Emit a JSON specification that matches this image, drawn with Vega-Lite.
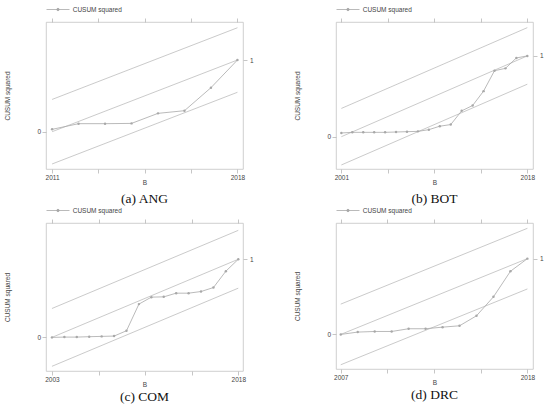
{
  "$schema": "https://vega.github.io/schema/vega-lite/v6.json",
  "padding": {"left": 4, "top": 3, "right": 0, "bottom": 0},
  "background": "white",
  "config": {
    "font": "Liberation Sans",
    "view": {"stroke": "#c4c4c4", "strokeWidth": 0.8},
    "axis": {"domain": false, "grid": false, "tickColor": "#b8b8b8", "tickSize": 4, "tickWidth": 0.8, "labelFontSize": 6.5, "labelColor": "#444", "titleFontSize": 6.5, "titleFontWeight": "normal", "titleColor": "#444", "labelPadding": 1.5},
    "axisX": {"titlePadding": -1, "labelPadding": 1},
    "axisY": {"titlePadding": 26},
    "legend": {"orient": "top", "title": null, "padding": 0, "offset": 4, "labelFontSize": 6.5, "labelColor": "#444", "symbolSize": 100, "symbolStrokeWidth": 0.8, "labelOffset": 15.7, "symbolType": "M-1,0H3.6M1.05,0A0.25,0.25,0,1,0,1.55,0A0.25,0.25,0,1,0,1.05,0"},
    "title": {"font": "Liberation Serif", "fontSize": 13.5, "fontWeight": "normal", "color": "#111", "frame": "group", "anchor": "middle"},
    "line": {"strokeWidth": 0.8}
  },
  "datasets": {
    "cusum": [
      {"p": "ANG", "year": 2011, "v": 0.033}, {"p": "ANG", "year": 2012, "v": 0.112}, {"p": "ANG", "year": 2013, "v": 0.112}, {"p": "ANG", "year": 2014, "v": 0.116},
      {"p": "ANG", "year": 2015, "v": 0.256}, {"p": "ANG", "year": 2016, "v": 0.293}, {"p": "ANG", "year": 2017, "v": 0.614}, {"p": "ANG", "year": 2018, "v": 1.0},
      {"p": "BOT", "year": 2001, "v": 0.046}, {"p": "BOT", "year": 2002, "v": 0.054}, {"p": "BOT", "year": 2003, "v": 0.054}, {"p": "BOT", "year": 2004, "v": 0.054},
      {"p": "BOT", "year": 2005, "v": 0.054}, {"p": "BOT", "year": 2006, "v": 0.058}, {"p": "BOT", "year": 2007, "v": 0.062}, {"p": "BOT", "year": 2008, "v": 0.066},
      {"p": "BOT", "year": 2009, "v": 0.087}, {"p": "BOT", "year": 2010, "v": 0.13}, {"p": "BOT", "year": 2011, "v": 0.15}, {"p": "BOT", "year": 2012, "v": 0.32},
      {"p": "BOT", "year": 2013, "v": 0.386}, {"p": "BOT", "year": 2014, "v": 0.564}, {"p": "BOT", "year": 2015, "v": 0.817}, {"p": "BOT", "year": 2016, "v": 0.846},
      {"p": "BOT", "year": 2017, "v": 0.975}, {"p": "BOT", "year": 2018, "v": 1.0},
      {"p": "COM", "year": 2003, "v": 0.0}, {"p": "COM", "year": 2004, "v": 0.004}, {"p": "COM", "year": 2005, "v": 0.004}, {"p": "COM", "year": 2006, "v": 0.009},
      {"p": "COM", "year": 2007, "v": 0.013}, {"p": "COM", "year": 2008, "v": 0.017}, {"p": "COM", "year": 2009, "v": 0.085}, {"p": "COM", "year": 2010, "v": 0.426},
      {"p": "COM", "year": 2011, "v": 0.515}, {"p": "COM", "year": 2012, "v": 0.519}, {"p": "COM", "year": 2013, "v": 0.566}, {"p": "COM", "year": 2014, "v": 0.566},
      {"p": "COM", "year": 2015, "v": 0.587}, {"p": "COM", "year": 2016, "v": 0.638}, {"p": "COM", "year": 2017, "v": 0.847}, {"p": "COM", "year": 2018, "v": 1.0},
      {"p": "DRC", "year": 2007, "v": 0.0}, {"p": "DRC", "year": 2008, "v": 0.031}, {"p": "DRC", "year": 2009, "v": 0.039}, {"p": "DRC", "year": 2010, "v": 0.039},
      {"p": "DRC", "year": 2011, "v": 0.075}, {"p": "DRC", "year": 2012, "v": 0.075}, {"p": "DRC", "year": 2013, "v": 0.096}, {"p": "DRC", "year": 2014, "v": 0.114},
      {"p": "DRC", "year": 2015, "v": 0.246}, {"p": "DRC", "year": 2016, "v": 0.496}, {"p": "DRC", "year": 2017, "v": 0.833}, {"p": "DRC", "year": 2018, "v": 1.0}
    ],
    "bounds": [
      {"p": "ANG", "line": "upper", "year": 2011, "v": 0.45}, {"p": "ANG", "line": "upper", "year": 2018, "v": 1.45},
      {"p": "ANG", "line": "mid", "year": 2011, "v": 0.0}, {"p": "ANG", "line": "mid", "year": 2018, "v": 1.0},
      {"p": "ANG", "line": "lower", "year": 2011, "v": -0.45}, {"p": "ANG", "line": "lower", "year": 2018, "v": 0.55},
      {"p": "BOT", "line": "upper", "year": 2001, "v": 0.35}, {"p": "BOT", "line": "upper", "year": 2018, "v": 1.35},
      {"p": "BOT", "line": "mid", "year": 2001, "v": 0.0}, {"p": "BOT", "line": "mid", "year": 2018, "v": 1.0},
      {"p": "BOT", "line": "lower", "year": 2001, "v": -0.35}, {"p": "BOT", "line": "lower", "year": 2018, "v": 0.65},
      {"p": "COM", "line": "upper", "year": 2003, "v": 0.37}, {"p": "COM", "line": "upper", "year": 2018, "v": 1.37},
      {"p": "COM", "line": "mid", "year": 2003, "v": 0.0}, {"p": "COM", "line": "mid", "year": 2018, "v": 1.0},
      {"p": "COM", "line": "lower", "year": 2003, "v": -0.37}, {"p": "COM", "line": "lower", "year": 2018, "v": 0.63},
      {"p": "DRC", "line": "upper", "year": 2007, "v": 0.4}, {"p": "DRC", "line": "upper", "year": 2018, "v": 1.4},
      {"p": "DRC", "line": "mid", "year": 2007, "v": 0.0}, {"p": "DRC", "line": "mid", "year": 2018, "v": 1.0},
      {"p": "DRC", "line": "lower", "year": 2007, "v": -0.4}, {"p": "DRC", "line": "lower", "year": 2018, "v": 0.6}
    ]
  },
  "resolve": {"scale": {"color": "independent"}, "legend": {"color": "independent"}},
  "spacing": -2,
  "vconcat": [
    {
      "resolve": {"scale": {"color": "independent"}, "legend": {"color": "independent"}},
      "spacing": 40,
      "hconcat": [
        {
          "width": 197, "height": 147,
          "title": {"text": "(a) ANG", "orient": "bottom", "offset": 6},
          "resolve": {"axis": {"x": "independent", "y": "independent"}},
          "layer": [
            {
              "data": {"name": "bounds"}, "transform": [{"filter": "datum.p === 'ANG'"}],
              "mark": {"type": "line", "color": "#bdbdbd", "strokeWidth": 0.8},
              "encoding": {
                "x": {"field": "year", "type": "quantitative", "scale": {"domain": [2010.77, 2018.21], "nice": false, "zero": false},
                      "axis": {"orient": "bottom", "values": [2011, 2012.75, 2014.5, 2016.25, 2018], "format": "d", "labelExpr": "datum.value % 1 === 0 ? datum.label : ''", "title": "B"}},
                "y": {"field": "v", "type": "quantitative", "scale": {"domain": [-0.52, 1.53], "nice": false, "zero": false},
                      "axis": {"orient": "left", "values": [0], "title": "CUSUM squared"}},
                "detail": {"field": "line"}
              }
            },
            {
              "data": {"name": "cusum"}, "transform": [{"filter": "datum.p === 'ANG'"}],
              "mark": {"type": "line", "strokeWidth": 0.8, "point": {"filled": true, "size": 6}},
              "encoding": {
                "x": {"field": "year", "type": "quantitative", "scale": {"domain": [2010.77, 2018.21], "nice": false, "zero": false},
                      "axis": {"orient": "top", "values": [2011, 2012.75, 2014.5, 2016.25, 2018], "labels": false, "title": null}},
                "y": {"field": "v", "type": "quantitative", "scale": {"domain": [-0.52, 1.53], "nice": false, "zero": false},
                      "axis": {"orient": "right", "values": [1], "title": null, "labelPadding": 2.5}},
                "color": {"datum": "CUSUM squared", "scale": {"range": ["#a8a8a8"]}}
              }
            }
          ]
        },
        {
          "width": 197, "height": 147,
          "title": {"text": "(b) BOT", "orient": "bottom", "offset": 6},
          "resolve": {"axis": {"x": "independent", "y": "independent"}},
          "layer": [
            {
              "data": {"name": "bounds"}, "transform": [{"filter": "datum.p === 'BOT'"}],
              "mark": {"type": "line", "color": "#bdbdbd", "strokeWidth": 0.8},
              "encoding": {
                "x": {"field": "year", "type": "quantitative", "scale": {"domain": [2000.51, 2018.52], "nice": false, "zero": false},
                      "axis": {"orient": "bottom", "values": [2001, 2005.25, 2009.5, 2013.75, 2018], "format": "d", "labelExpr": "datum.value % 1 === 0 ? datum.label : ''", "title": "B"}},
                "y": {"field": "v", "type": "quantitative", "scale": {"domain": [-0.40, 1.42], "nice": false, "zero": false},
                      "axis": {"orient": "left", "values": [0], "title": "CUSUM squared"}},
                "detail": {"field": "line"}
              }
            },
            {
              "data": {"name": "cusum"}, "transform": [{"filter": "datum.p === 'BOT'"}],
              "mark": {"type": "line", "strokeWidth": 0.8, "point": {"filled": true, "size": 6}},
              "encoding": {
                "x": {"field": "year", "type": "quantitative", "scale": {"domain": [2000.51, 2018.52], "nice": false, "zero": false},
                      "axis": {"orient": "top", "values": [2001, 2005.25, 2009.5, 2013.75, 2018], "labels": false, "title": null}},
                "y": {"field": "v", "type": "quantitative", "scale": {"domain": [-0.40, 1.42], "nice": false, "zero": false},
                      "axis": {"orient": "right", "values": [1], "title": null, "labelPadding": 2.5}},
                "color": {"datum": "CUSUM squared", "scale": {"range": ["#a8a8a8"]}}
              }
            }
          ]
        }
      ]
    },
    {
      "resolve": {"scale": {"color": "independent"}, "legend": {"color": "independent"}},
      "spacing": 40,
      "hconcat": [
        {
          "width": 197, "height": 148,
          "title": {"text": "(c) COM", "orient": "bottom", "offset": 1.5},
          "resolve": {"axis": {"x": "independent", "y": "independent"}},
          "layer": [
            {
              "data": {"name": "bounds"}, "transform": [{"filter": "datum.p === 'COM'"}],
              "mark": {"type": "line", "color": "#bdbdbd", "strokeWidth": 0.8},
              "encoding": {
                "x": {"field": "year", "type": "quantitative", "scale": {"domain": [2002.52, 2018.38], "nice": false, "zero": false},
                      "axis": {"orient": "bottom", "values": [2003, 2006.75, 2010.5, 2014.25, 2018], "format": "d", "labelExpr": "datum.value % 1 === 0 ? datum.label : ''", "title": "B"}},
                "y": {"field": "v", "type": "quantitative", "scale": {"domain": [-0.43, 1.464], "nice": false, "zero": false},
                      "axis": {"orient": "left", "values": [0], "title": "CUSUM squared"}},
                "detail": {"field": "line"}
              }
            },
            {
              "data": {"name": "cusum"}, "transform": [{"filter": "datum.p === 'COM'"}],
              "mark": {"type": "line", "strokeWidth": 0.8, "point": {"filled": true, "size": 6}},
              "encoding": {
                "x": {"field": "year", "type": "quantitative", "scale": {"domain": [2002.52, 2018.38], "nice": false, "zero": false},
                      "axis": {"orient": "top", "values": [2003, 2006.75, 2010.5, 2014.25, 2018], "labels": false, "title": null}},
                "y": {"field": "v", "type": "quantitative", "scale": {"domain": [-0.43, 1.464], "nice": false, "zero": false},
                      "axis": {"orient": "right", "values": [1], "title": null, "labelPadding": 2.5}},
                "color": {"datum": "CUSUM squared", "scale": {"range": ["#a8a8a8"]}}
              }
            }
          ]
        },
        {
          "width": 197, "height": 146,
          "title": {"text": "(d) DRC", "orient": "bottom", "offset": 1.5},
          "resolve": {"axis": {"x": "independent", "y": "independent"}},
          "layer": [
            {
              "data": {"name": "bounds"}, "transform": [{"filter": "datum.p === 'DRC'"}],
              "mark": {"type": "line", "color": "#bdbdbd", "strokeWidth": 0.8},
              "encoding": {
                "x": {"field": "year", "type": "quantitative", "scale": {"domain": [2006.72, 2018.33], "nice": false, "zero": false},
                      "axis": {"orient": "bottom", "values": [2007, 2009.75, 2012.5, 2015.25, 2018], "format": "d", "labelExpr": "datum.value % 1 === 0 ? datum.label : ''", "title": "B"}},
                "y": {"field": "v", "type": "quantitative", "scale": {"domain": [-0.456, 1.47], "nice": false, "zero": false},
                      "axis": {"orient": "left", "values": [0], "title": "CUSUM squared"}},
                "detail": {"field": "line"}
              }
            },
            {
              "data": {"name": "cusum"}, "transform": [{"filter": "datum.p === 'DRC'"}],
              "mark": {"type": "line", "strokeWidth": 0.8, "point": {"filled": true, "size": 6}},
              "encoding": {
                "x": {"field": "year", "type": "quantitative", "scale": {"domain": [2006.72, 2018.33], "nice": false, "zero": false},
                      "axis": {"orient": "top", "values": [2007, 2009.75, 2012.5, 2015.25, 2018], "labels": false, "title": null}},
                "y": {"field": "v", "type": "quantitative", "scale": {"domain": [-0.456, 1.47], "nice": false, "zero": false},
                      "axis": {"orient": "right", "values": [1], "title": null, "labelPadding": 2.5}},
                "color": {"datum": "CUSUM squared", "scale": {"range": ["#a8a8a8"]}}
              }
            }
          ]
        }
      ]
    }
  ]
}
